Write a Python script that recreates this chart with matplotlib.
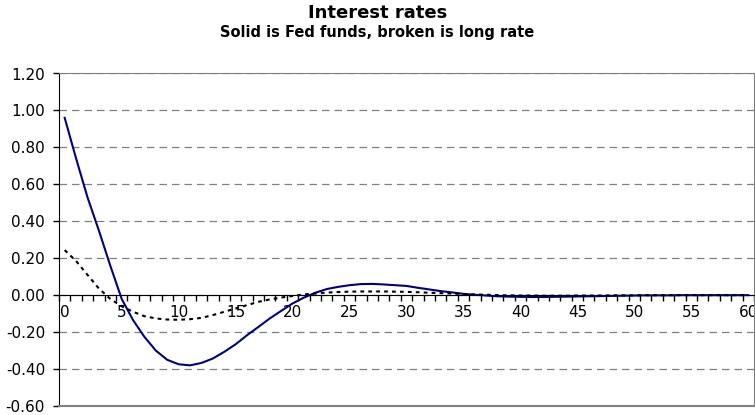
import numpy as np
import matplotlib.pyplot as plt
from matplotlib.ticker import FormatStrFormatter, MultipleLocator

plt.rcParams['font.family'] = ['DejaVu Sans']

# impulse responses, periods 0..60
periods = np.arange(61)

fed_funds = [0.96, 0.74, 0.53, 0.35, 0.16, -0.02, -0.135, -0.226, -0.30, -0.35,
             -0.374, -0.38, -0.367, -0.343, -0.307, -0.266, -0.217, -0.172, -0.126, -0.085,
             -0.045, -0.013, 0.013, 0.033, 0.045, 0.054, 0.060, 0.061, 0.058, 0.054,
             0.050, 0.040, 0.031, 0.022, 0.015, 0.007, 0.002, -0.002, -0.006, -0.008,
             -0.009, -0.010, -0.010, -0.009, -0.008, -0.007, -0.006, -0.005, -0.004, -0.003,
             -0.002, -0.001, -0.001, -0.001, 0.0, 0.0, 0.0, 0.0, 0.0, 0.0, 0.0]

long_rate = [0.244, 0.185, 0.11, 0.036, -0.02, -0.06, -0.09, -0.114, -0.126, -0.132,
             -0.133, -0.13, -0.123, -0.108, -0.09, -0.072, -0.054, -0.036, -0.023, -0.013,
             -0.004, 0.004, 0.009, 0.014, 0.017, 0.019, 0.020, 0.020, 0.020, 0.019,
             0.018, 0.016, 0.013, 0.011, 0.009, 0.006, 0.004, 0.002, 0.0, -0.001,
             -0.002, -0.002, -0.003, -0.003, -0.003, -0.002, -0.002, -0.002, -0.001, -0.001,
             -0.001, 0.0, 0.0, 0.0, 0.0, 0.0, 0.0, 0.0, 0.0, 0.0, 0.0]

fig = plt.figure(figsize=(7.55, 4.15), dpi=100)
ax = fig.add_axes([59 / 755, 1 - 406 / 415, 695 / 755, 332.5 / 415])

ax.plot(periods, fed_funds, color='#000080', lw=1.5, zorder=3)
ax.plot(periods, long_rate, color='black', lw=1.5, ls=(0, (1.8, 2.0)), zorder=3)

ax.set_xlim(-0.5, 60.5)
ax.set_ylim(-0.6, 1.2)

# y axis
ax.yaxis.set_major_locator(MultipleLocator(0.2))
ax.yaxis.set_major_formatter(FormatStrFormatter('%.2f'))
ax.tick_params(axis='y', direction='out', length=4, width=1, labelsize=11, pad=6)
ax.grid(axis='y', color='#808080', ls=(0, (6, 4)), lw=0.9)

# x axis sits at zero, ticks between categories
ax.spines['bottom'].set_position(('data', 0))
ax.spines['bottom'].set_color('black')
ax.spines['left'].set_color('black')
ax.spines['top'].set_color('#808080')
ax.spines['right'].set_color('#808080')
ax.axhline(-0.6, color='#808080', lw=1.5, clip_on=False, zorder=4)

ax.set_xticks(np.arange(0, 61, 5))
ax.set_xticks(np.arange(-0.5, 60.6, 1), minor=True)
ax.tick_params(axis='x', which='major', length=0, labelsize=11, pad=7)
ax.tick_params(axis='x', which='minor', direction='out', length=4, width=1)
ax.set_axisbelow(True)

fig.text(0.5, 1 - 13 / 415, 'Interest rates', ha='center', va='center',
         fontsize=13, fontweight='bold')
fig.text(0.5, 1 - 32 / 415, 'Solid is Fed funds, broken is long rate', ha='center',
         va='center', fontsize=10.5, fontweight='bold')

fig.savefig('out.png', dpi=100)
